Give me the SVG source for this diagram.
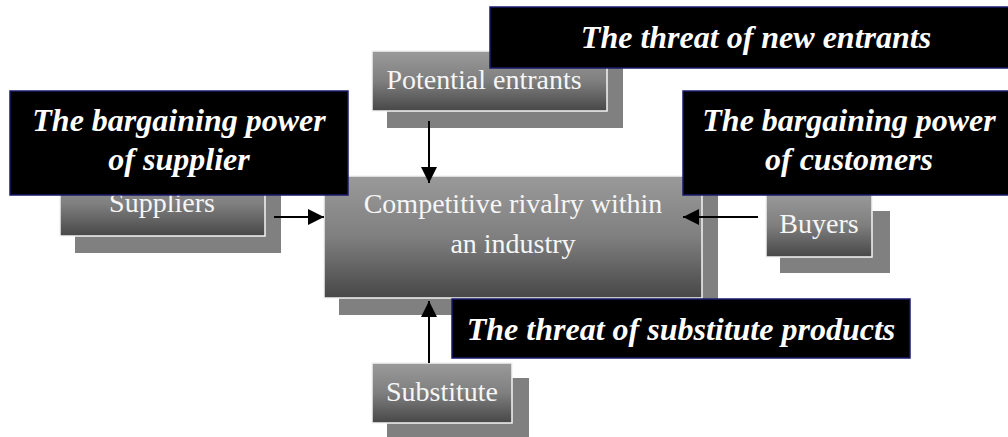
<svg xmlns="http://www.w3.org/2000/svg" width="1008" height="437" viewBox="0 0 1008 437">
<defs>
<linearGradient id="g" x1="0" y1="0" x2="0" y2="1">
<stop offset="0" stop-color="#9a9a9a"/>
<stop offset="0.5" stop-color="#7f7f7f"/>
<stop offset="1" stop-color="#474747"/>
</linearGradient>
<marker id="ah" viewBox="0 0 16 16" refX="16" refY="8" markerWidth="16" markerHeight="16" markerUnits="userSpaceOnUse" orient="auto">
<path d="M0,0 L16,8 L0,16 Z" fill="#000"/>
</marker>
<style>
.sh{fill:#808080}
.bx{fill:url(#g);stroke:#f4f4f4;stroke-width:1.5}
.bt{font-family:"Liberation Serif","Times New Roman",serif;font-size:28px;fill:#f6f6f6;text-anchor:middle}
.lb{fill:#000;stroke:#1a1a6e;stroke-width:1.5}
.lt{font-family:"Liberation Serif","Times New Roman",serif;font-size:32px;font-weight:bold;font-style:italic;fill:#fff;text-anchor:middle}
.ar{stroke:#000;stroke-width:2;fill:none;marker-end:url(#ah)}
</style>
</defs>
<g id="central">
<rect class="sh" x="339" y="193" width="379" height="122"/>
<rect class="bx" x="324" y="176" width="378" height="122"/>
<text class="bt" x="513" y="213">Competitive rivalry within</text>
<text class="bt" x="513" y="253">an industry</text>
</g>
<g id="potential-entrants">
<rect class="sh" x="387" y="68" width="236" height="60"/>
<rect class="bx" x="372" y="51" width="235" height="60"/>
<text class="bt" x="484" y="89">Potential entrants</text>
</g>
<g id="suppliers">
<rect class="sh" x="75" y="189" width="206" height="64"/>
<rect class="bx" x="60" y="172" width="205" height="64"/>
<text class="bt" x="162" y="212">Suppliers</text>
</g>
<g id="buyers">
<rect class="sh" x="780" y="211" width="110" height="62"/>
<rect class="bx" x="766" y="193" width="106" height="64"/>
<text class="bt" x="819" y="233">Buyers</text>
</g>
<g id="substitute">
<rect class="sh" x="387" y="378" width="142" height="59"/>
<rect class="bx" x="372" y="363" width="140" height="60"/>
<text class="bt" x="442" y="401">Substitute</text>
</g>
<g id="connectors">
<line class="ar" x1="429" y1="121" x2="429" y2="183"/>
<line class="ar" x1="274" y1="217" x2="324" y2="217"/>
<line class="ar" x1="758" y1="217" x2="683" y2="217"/>
<line class="ar" x1="429" y1="363" x2="429" y2="301"/>
</g>
<g id="label-new-entrants">
<rect class="lb" x="490" y="7" width="531" height="61"/>
<text class="lt" x="756" y="48">The threat of new entrants</text>
</g>
<g id="label-supplier">
<rect class="lb" x="10" y="91" width="338" height="104"/>
<text class="lt" x="179" y="131">The bargaining power</text>
<text class="lt" x="179" y="170">of supplier</text>
</g>
<g id="label-customers">
<rect class="lb" x="683" y="91" width="332" height="104"/>
<text class="lt" x="849" y="131">The bargaining power</text>
<text class="lt" x="849" y="170">of customers</text>
</g>
<g id="label-substitute">
<rect class="lb" x="452" y="299" width="458" height="59"/>
<text class="lt" x="681" y="340">The threat of substitute products</text>
</g>
</svg>
